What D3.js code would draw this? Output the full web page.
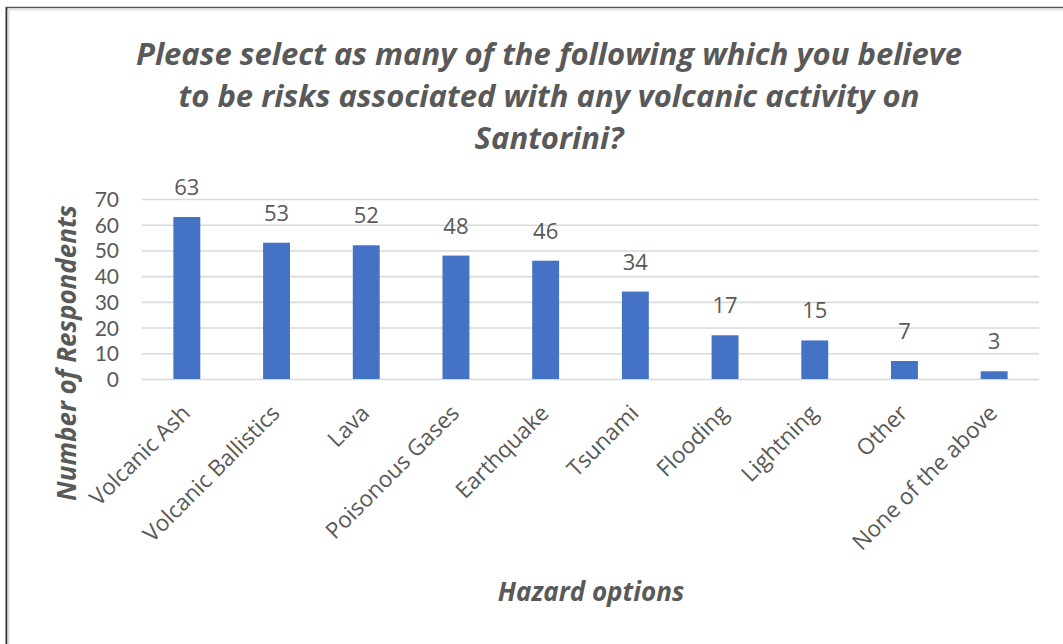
<!DOCTYPE html>
<html>
<head>
<meta charset="utf-8">
<script src="https://cdn.jsdelivr.net/npm/d3@7"></script>
<style>
  html, body { margin: 0; padding: 0; background: #fff; }
  svg { display: block; }
  text { font-family: "Open Sans", Lato, sans-serif; }
  .tick-label { font-family: Lato, "Open Sans", sans-serif; }
</style>
</head>
<body>
<svg id="chart" width="1063" height="644"></svg>
<script>
// Survey responses: perceived volcanic hazards on Santorini
const categories = ["Volcanic Ash", "Volcanic Ballistics", "Lava", "Poisonous Gases",
  "Earthquake", "Tsunami", "Flooding", "Lightning", "Other", "None of the above"];
const respondents = [63, 53, 52, 48, 46, 34, 17, 15, 7, 3];
const yTicks = [0, 10, 20, 30, 40, 50, 60, 70];
const titleLines = [
  "Please select as many of the following which you believe",
  "to be risks associated with any volcanic activity on",
  "Santorini?"
];

const W = 1063, H = 644;
const margin = { left: 142, right: 24, top: 199, bottom: 265 };
const textColor = "#595959";

const svg = d3.select("#chart");

// chart area frame
svg.append("rect").attr("x", 0).attr("y", 0).attr("width", W).attr("height", H).attr("fill", "#fff");
svg.append("line").attr("x1", 6.5).attr("x2", 6.5).attr("y1", 7).attr("y2", H)
  .attr("stroke", "#333").attr("stroke-width", 2);
svg.append("line").attr("x1", 6).attr("x2", W).attr("y1", 7.5).attr("y2", 7.5)
  .attr("stroke", "#555").attr("stroke-width", 1.5);
svg.append("line").attr("x1", 8.5).attr("x2", 8.5).attr("y1", 9).attr("y2", H)
  .attr("stroke", "#ddd").attr("stroke-width", 2);
svg.append("line").attr("x1", 8).attr("x2", W).attr("y1", 9.5).attr("y2", 9.5)
  .attr("stroke", "#e2e2e2").attr("stroke-width", 2);

const x = d3.scaleBand()
  .domain(categories)
  .range([margin.left, W - margin.right])
  .paddingInner(0.7)
  .paddingOuter(0.35);

const y = d3.scaleLinear()
  .domain([0, 70])
  .range([H - margin.bottom, margin.top]);

// gridlines
const grid = svg.append("g")
  .attr("transform", `translate(${margin.left},0)`)
  .call(d3.axisLeft(y).tickValues(yTicks).tickSize(-(W - margin.right - margin.left)).tickFormat(""));
grid.select(".domain").remove();
grid.selectAll("line").attr("stroke", "#d9d9d9").attr("stroke-width", 1.6);

// y tick labels
const yAxis = svg.append("g")
  .attr("transform", `translate(${margin.left - 23},0)`)
  .call(d3.axisLeft(y).tickValues(yTicks).tickSize(0).tickPadding(0));
yAxis.select(".domain").remove();
yAxis.selectAll("text")
  .attr("class", "tick-label")
  .attr("fill", textColor)
  .style("font-size", "21px")
  .attr("dy", "0.36em");

// bars
svg.append("g").selectAll("rect")
  .data(categories)
  .join("rect")
  .attr("x", d => x(d))
  .attr("width", x.bandwidth())
  .attr("y", (d, i) => y(respondents[i]))
  .attr("height", (d, i) => y(0) - y(respondents[i]))
  .attr("fill", "#4472C4");

// value labels
svg.append("g").selectAll("text")
  .data(categories)
  .join("text")
  .attr("x", d => x(d) + x.bandwidth() / 2)
  .attr("y", (d, i) => y(respondents[i]) - 22)
  .attr("text-anchor", "middle")
  .attr("fill", textColor)
  .style("font-size", "22px")
  .text((d, i) => respondents[i]);

// category labels, rotated
svg.append("g").selectAll("text")
  .data(categories)
  .join("text")
  .attr("transform", d => `translate(${x(d) + x.bandwidth() / 2 - 1},${y(0) + 30}) rotate(-45)`)
  .attr("text-anchor", "end")
  .attr("dy", "0.35em")
  .attr("fill", textColor)
  .style("font-size", "22.5px")
  .text(d => d);

// title
svg.append("g").selectAll("text")
  .data(titleLines)
  .join("text")
  .attr("x", 549)
  .attr("y", (d, i) => 65 + i * 42)
  .attr("text-anchor", "middle")
  .attr("fill", textColor)
  .style("font-size", "31px")
  .style("font-weight", "bold")
  .style("font-style", "italic")
  .text(d => d);

// axis titles
svg.append("text")
  .attr("transform", `translate(76,353) rotate(-90)`)
  .attr("text-anchor", "middle")
  .attr("fill", textColor)
  .style("font-size", "26px")
  .style("font-weight", "bold")
  .style("font-style", "italic")
  .text("Number of Respondents");

svg.append("text")
  .attr("x", 591)
  .attr("y", 601)
  .attr("text-anchor", "middle")
  .attr("fill", textColor)
  .style("font-size", "26px")
  .style("font-weight", "bold")
  .style("font-style", "italic")
  .text("Hazard options");
</script>
</body>
</html>
